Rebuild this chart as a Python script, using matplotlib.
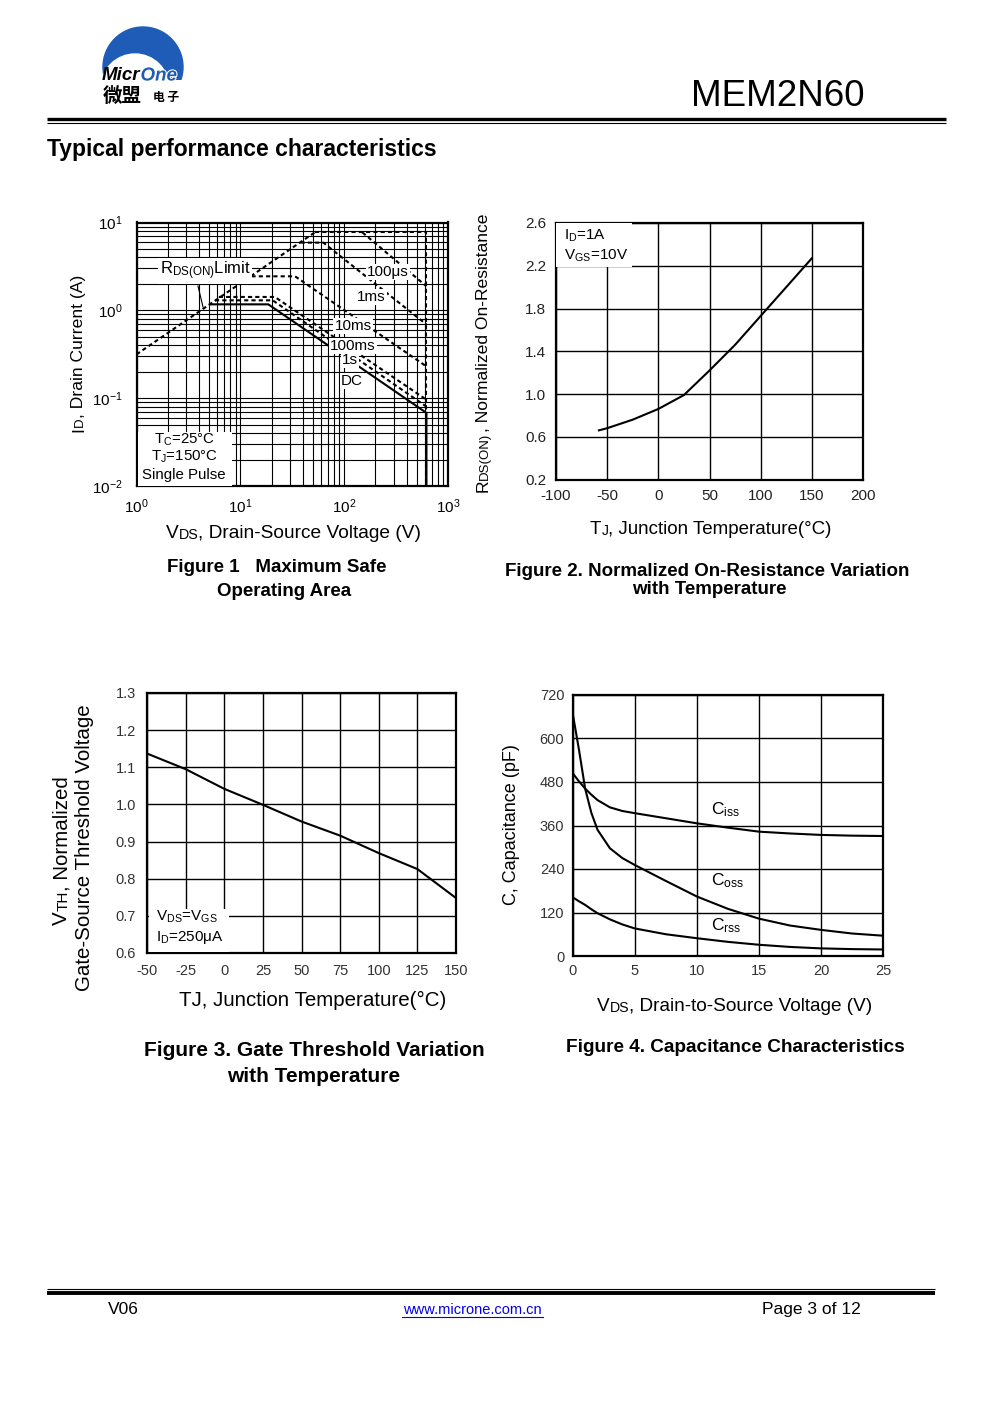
import matplotlib
matplotlib.use("Agg")
import numpy as np
import matplotlib.pyplot as plt
from matplotlib.patches import Circle, Rectangle
import matplotlib.patheffects as pe

W, H = 991, 1403
plt.rcParams['font.family'] = ['Liberation Sans', 'DejaVu Sans']
plt.rcParams['mathtext.fontset'] = 'custom'
plt.rcParams['mathtext.rm'] = 'Liberation Sans'
plt.rcParams['mathtext.it'] = 'Liberation Sans:italic'
plt.rcParams['mathtext.bf'] = 'Liberation Sans:bold'
plt.rcParams['axes.unicode_minus'] = False

# ---- Figure 1: safe operating area (V, A) ----
rds_v, rds_i = [1, 52], [0.315, 7.7]
env_v, env_i = [52, 620, 620], [7.7, 7.7, 0.01]
us100_v, us100_i = [150, 620], [7.7, 1.88]
ms1_v, ms1_i = [38, 63, 620], [5.9, 5.9, 0.69]
ms10_v, ms10_i = [12.8, 33.6, 620], [2.44, 2.44, 0.23]
ms100_v, ms100_i = [6.2, 21.5, 620], [1.42, 1.42, 0.096]
s1_v, s1_i = [5.7, 20.5, 620], [1.30, 1.30, 0.080]
dc_v, dc_i = [5.1, 18.6, 620, 620], [1.17, 1.17, 0.068, 0.01]

# ---- Figure 2: normalized RDS(on) vs Tj ----
t2 = [-58, -50, -25, 0, 25, 50, 75, 100, 125, 150]
r2 = [0.66, 0.68, 0.76, 0.86, 0.99, 1.22, 1.46, 1.73, 2.00, 2.27]

# ---- Figure 3: normalized Vth vs Tj ----
t3 = [-50, -25, 0, 25, 50, 75, 100, 125, 150]
v3 = [1.137, 1.095, 1.042, 0.999, 0.954, 0.916, 0.869, 0.826, 0.748]

# ---- Figure 4: capacitance vs Vds ----
vds = [0, 0.5, 1, 1.5, 2, 3, 4, 5, 7.5, 10, 12.5, 15, 17.5, 20, 22.5, 25]
ciss = [504, 482, 462, 445, 430, 410, 400, 394, 380, 366, 354, 343, 338, 334, 332, 331]
coss = [669, 570, 462, 395, 348, 297, 270, 251, 207, 164, 130, 103, 84, 72, 62, 56]
crss = [162, 151, 141, 129, 118, 101, 87, 76, 60, 49, 39, 31, 25, 21, 19, 18]

fig = plt.figure(figsize=(W / 100, H / 100), dpi=100)
page = fig.add_axes([0, 0, 1, 1], zorder=0)
page.set_xlim(0, W)
page.set_ylim(H, 0)
page.axis('off')


def box(l, r, t, b):
    return [l / W, 1 - b / H, (r - l) / W, (b - t) / H]


def frac(rect, px, py):
    l, r, t, b = rect
    return (px - l) / (r - l), (b - py) / (b - t)


def chain(x, y, parts, rot=0, color='black'):
    """Small-caps style label: pieces of different size on one baseline."""
    if rot == 0:
        t = page.text(x, y, parts[0][0], fontsize=parts[0][1], ha='left', va='bottom', color=color)
    else:
        t = page.text(x, y, parts[0][0], fontsize=parts[0][1], ha='right', va='bottom',
                      rotation=90, color=color)
    for s, fs in parts[1:]:
        if rot == 0:
            t = page.annotate(s, xy=(1, 0), xycoords=t, fontsize=fs, ha='left', va='bottom', color=color)
        else:
            t = page.annotate(s, xy=(1, 1), xycoords=t, fontsize=fs, ha='right', va='bottom',
                              rotation=90, color=color)
    return t


def pow10(v, pos):
    return "$\\mathregular{10^{%d}}$" % int(round(np.log10(v)))


# ---- header / logo ----
blue = '#1F5CB8'
dome = Circle((143, 67), 40, color=blue, zorder=1)
page.add_patch(dome)
dome.set_clip_path(Rectangle((90, 20), 110, 60, transform=page.transData))
hole = Circle((135, 88), 34, color='white', zorder=2)
page.add_patch(hole)
hole.set_clip_path(Rectangle((90, 20), 110, 60, transform=page.transData))
tm = page.text(102, 80.5, "Micr", fontsize=13.5, fontweight='bold', style='italic', color='black',
               ha='left', va='baseline', zorder=3)
page.annotate("One", xy=(1, 0), xycoords=tm, fontsize=13.5, fontweight='bold', style='italic',
              color=blue, ha='left', va='bottom', zorder=3,
              path_effects=[pe.withStroke(linewidth=1.5, foreground='white')])
page.text(103, 102, "微盟", fontsize=14, fontweight='bold', family=['Noto Sans CJK SC'],
          ha='left', va='baseline')
page.text(153, 101, "电 子", fontsize=8.5, fontweight='bold', family=['Noto Sans CJK SC'],
          ha='left', va='baseline')

page.text(865, 106, "MEM2N60", fontsize=26.5, ha='right', va='baseline')
page.plot([47, 946], [118.5, 118.5], color='black', lw=2.4, solid_capstyle='butt')
page.plot([47, 946], [122.6, 122.6], color='black', lw=0.8, solid_capstyle='butt')
page.text(47, 156, "Typical performance characteristics", fontsize=16.5, fontweight='bold',
          ha='left', va='baseline')

# ---- footer ----
page.plot([47, 935], [1288.5, 1288.5], color='black', lw=0.8, solid_capstyle='butt')
page.plot([47, 935], [1293, 1293], color='black', lw=2.8, solid_capstyle='butt')
page.text(108, 1314, "V06", fontsize=12.5, ha='left', va='baseline')
page.text(472, 1314, "www.microne.com.cn", fontsize=10.5, ha='center', va='baseline', color='#0000EE')
page.plot([402, 543], [1316.5, 1316.5], color='#0000EE', lw=0.8)
page.text(762, 1314, "Page 3 of 12", fontsize=12.5, ha='left', va='baseline')

dash = (0, (2, 1.5))

# ================= Figure 1 =================
r1 = (136.5, 448, 222.5, 486)
ax1 = fig.add_axes(box(*r1), zorder=2)
ax1.set_xscale('log')
ax1.set_yscale('log')
ax1.set_xlim(1, 1000)
ax1.set_ylim(0.01, 10)
ax1.xaxis.set_major_formatter(matplotlib.ticker.FuncFormatter(pow10))
ax1.yaxis.set_major_formatter(matplotlib.ticker.FuncFormatter(pow10))
ax1.grid(True, which='both', color='black', lw=0.8)
ax1.set_axisbelow(True)
for sp in ax1.spines.values():
    sp.set_linewidth(1.6)
ax1.tick_params(which='both', length=0, labelsize=11, pad=8)
ax1.tick_params(axis='y', pad=10)
kw = dict(color='black', lw=1.5)
ax1.plot(rds_v, rds_i, ls=dash, **kw)
ax1.plot(env_v, env_i, ls=dash, **kw)
ax1.plot(us100_v, us100_i, ls=dash, **kw)
ax1.plot(ms1_v, ms1_i, ls=dash, **kw)
ax1.plot(ms10_v, ms10_i, ls=dash, **kw)
ax1.plot(ms100_v, ms100_i, ls=dash, **kw)
ax1.plot(s1_v, s1_i, ls=dash, **kw)
ax1.plot(dc_v, dc_i, ls='-', **kw)
wb = dict(facecolor='white', edgecolor='none', pad=1.0)
for s, px, py in [("100μs", 388, 272), ("1ms", 371, 297), ("10ms", 353, 326),
                  ("100ms", 353, 346), ("1s", 350, 360), ("DC", 352, 381)]:
    ax1.text(*frac(r1, px, py), s, transform=ax1.transAxes, fontsize=11, ha='center',
             va='center', bbox=wb, zorder=5)
ax1.text(*frac(r1, 205, 271), r"R$_\mathregular{DS(ON)}$Limit", transform=ax1.transAxes,
         fontsize=12, ha='center', va='center', bbox=wb, zorder=5)
ax1.plot(*zip(frac(r1, 198, 286), frac(r1, 203, 307)), transform=ax1.transAxes, color='black', lw=0.8)
ax1.add_patch(Rectangle(frac(r1, 138, 486), 94 / (r1[1] - r1[0]), 54 / (r1[3] - r1[2]),
                        transform=ax1.transAxes, facecolor='white', edgecolor='none', zorder=4))
for s, py in [("T$_\\mathregular{C}$=25°C", 439.5), ("T$_\\mathregular{J}$=150°C", 456.5),
              ("Single Pulse", 474.5)]:
    ax1.text(*frac(r1, 184, py), s, transform=ax1.transAxes, fontsize=10.8, ha='center',
             va='center', zorder=5)

chain(86, 432, [("I", 12.6), ("D", 9.5), (", Drain Current (A)", 12.6)], rot=90)
chain(166, 542, [("V", 13.8), ("DS", 10.3), (", Drain-Source Voltage (V)", 13.8)])
page.text(277, 567, "Figure 1   Maximum Safe", fontsize=13.5, fontweight='bold', ha='center', va='center')
page.text(284, 591, "Operating Area", fontsize=13.5, fontweight='bold', ha='center', va='center')

# ================= Figure 2 =================
r2r = (556, 863, 223, 479.5)
ax2 = fig.add_axes(box(*r2r), zorder=2)
ax2.set_xlim(-100, 200)
ax2.set_ylim(0.2, 2.6)
ax2.set_xticks(np.arange(-100, 201, 50))
ax2.set_yticks(np.arange(0.2, 2.61, 0.4))
ax2.yaxis.set_major_formatter(matplotlib.ticker.FormatStrFormatter('%.1f'))
ax2.grid(True, color='black', lw=1.0)
ax2.set_axisbelow(True)
for sp in ax2.spines.values():
    sp.set_linewidth(1.6)
ax2.tick_params(length=0, labelsize=11, pad=7, colors='#222222')
ax2.plot(t2, r2, color='black', lw=1.5)
ax2.add_patch(Rectangle(frac(r2r, 556, 267), 76 / (r2r[1] - r2r[0]), 44 / (r2r[3] - r2r[2]),
                        transform=ax2.transAxes, facecolor='white', edgecolor='none', zorder=4))
ax2.text(*frac(r2r, 564, 236), "I$_\\mathregular{D}$=1A", transform=ax2.transAxes, fontsize=11,
         ha='left', va='center', zorder=5)
ax2.text(*frac(r2r, 564, 256), "V$_\\mathregular{GS}$=10V", transform=ax2.transAxes, fontsize=11,
         ha='left', va='center', zorder=5)
chain(491, 492, [("R", 12.6), ("DS(ON)", 9.5), (", Normalized On-Resistance", 12.6)], rot=90)
chain(590, 538, [("T", 13.5), ("J", 10), (", Junction Temperature(°C)", 13.5)])
page.text(707, 571, "Figure 2. Normalized On-Resistance Variation", fontsize=13.5, fontweight='bold',
          ha='center', va='center')
page.text(709, 590, "with Temperature", fontsize=13.5, fontweight='bold', ha='center', va='center')

# ================= Figure 3 =================
r3 = (147, 456, 693, 953)
ax3 = fig.add_axes(box(*r3), zorder=2)
ax3.set_xlim(-50, 150)
ax3.set_ylim(0.6, 1.3)
ax3.set_xticks(np.arange(-50, 151, 25))
ax3.set_yticks(np.arange(0.6, 1.31, 0.1))
ax3.yaxis.set_major_formatter(matplotlib.ticker.FormatStrFormatter('%.1f'))
ax3.grid(True, color='black', lw=1.0)
ax3.set_axisbelow(True)
for sp in ax3.spines.values():
    sp.set_linewidth(1.6)
ax3.tick_params(length=0, labelsize=10.5, pad=8, colors='#333333')
ax3.plot(t3, v3, color='black', lw=1.5)
ax3.add_patch(Rectangle(frac(r3, 149, 952), 80 / (r3[1] - r3[0]), 43 / (r3[3] - r3[2]),
                        transform=ax3.transAxes, facecolor='white', edgecolor='none', zorder=4))
ax3.text(*frac(r3, 156, 917), "V$_\\mathregular{DS}$=V$_\\mathregular{GS}$", transform=ax3.transAxes,
         fontsize=11, ha='left', va='center', zorder=5)
ax3.text(*frac(r3, 156, 937), "I$_\\mathregular{D}$=250μA", transform=ax3.transAxes,
         fontsize=11, ha='left', va='center', zorder=5)
chain(71, 925, [("V", 14.8), ("TH", 11), (", Normalized", 14.8)], rot=90)
page.text(85, 848, "Gate-Source Threshold Voltage", fontsize=14.8, rotation=90, ha='center', va='center')
page.text(313, 1000, "TJ, Junction Temperature(°C)", fontsize=14.8, ha='center', va='center')
page.text(314, 1051, "Figure 3. Gate Threshold Variation", fontsize=15, fontweight='bold',
          ha='center', va='center')
page.text(314, 1076, "with Temperature", fontsize=15, fontweight='bold', ha='center', va='center')

# ================= Figure 4 =================
r4 = (572.7, 883.3, 695, 956)
ax4 = fig.add_axes(box(*r4), zorder=2)
ax4.set_xlim(0, 25)
ax4.set_ylim(0, 720)
ax4.set_xticks(np.arange(0, 26, 5))
ax4.set_yticks(np.arange(0, 721, 120))
ax4.grid(True, color='black', lw=1.0)
ax4.set_axisbelow(True)
for sp in ax4.spines.values():
    sp.set_linewidth(1.6)
ax4.tick_params(length=0, labelsize=10.5, pad=6, colors='#333333')
ax4.plot(vds, ciss, color='black', lw=1.5)
ax4.plot(vds, coss, color='black', lw=1.5)
ax4.plot(vds, crss, color='black', lw=1.5)
for s, py in [("C$_\\mathregular{iss}$", 810), ("C$_\\mathregular{oss}$", 881),
              ("C$_\\mathregular{rss}$", 926)]:
    ax4.text(*frac(r4, 711, py), s, transform=ax4.transAxes, fontsize=12.5, ha='left', va='center')
page.text(512, 825, "C, Capacitance (pF)", fontsize=13, rotation=90, ha='center', va='center')
chain(597, 1015, [("V", 13.7), ("DS", 10.2), (", Drain-to-Source Voltage (V)", 13.7)])
page.text(735, 1048, "Figure 4. Capacitance Characteristics", fontsize=13.7, fontweight='bold',
          ha='center', va='center')

fig.savefig("out.png", dpi=100)
